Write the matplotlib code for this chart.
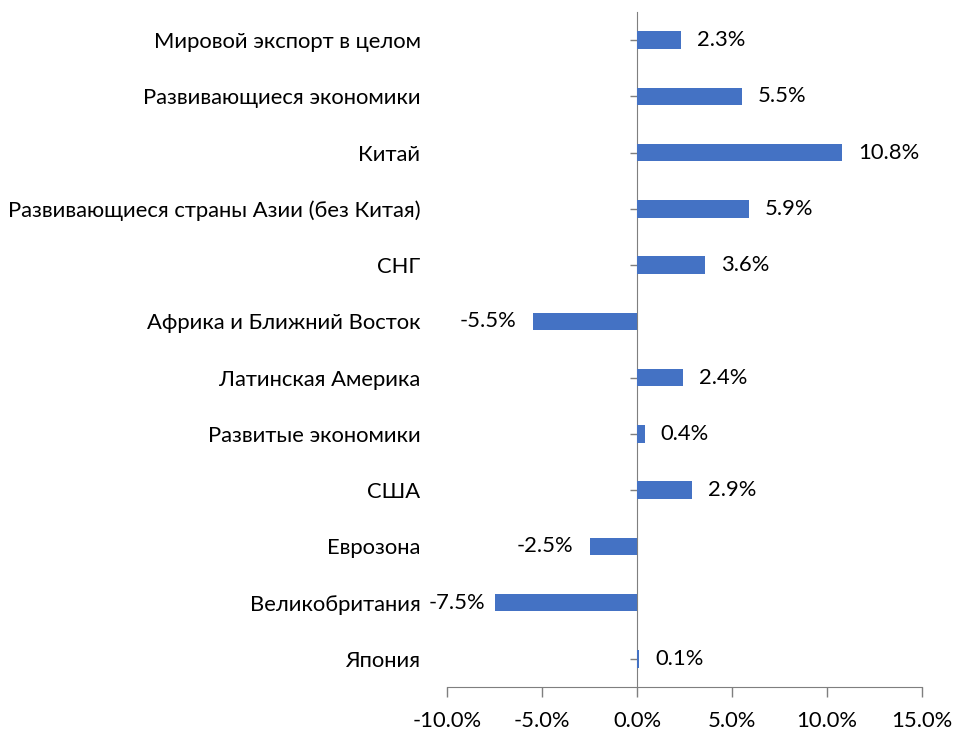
import matplotlib
matplotlib.use('Agg')
import matplotlib.pyplot as plt
import matplotlib.ticker as mticker

categories = ['Мировой экспорт в целом', 'Развивающиеся экономики', 'Китай',
              'Развивающиеся страны Азии (без Китая)', 'СНГ',
              'Африка и Ближний Восток', 'Латинская Америка',
              'Развитые экономики', 'США', 'Еврозона', 'Великобритания', 'Япония']
values = [2.3, 5.5, 10.8, 5.9, 3.6, -5.5, 2.4, 0.4, 2.9, -2.5, -7.5, 0.1]
xticks = [-10, -5, 0, 5, 10, 15]

plt.rcParams['font.family'] = ['Lato', 'DejaVu Sans']
plt.rcParams['font.size'] = 15.8

fig = plt.figure(figsize=(9.54, 7.29), dpi=100)
ax = fig.add_axes([447/954, 1-687/729, (922-447)/954, (687-12)/729])

ypos = list(range(len(categories)))[::-1]
ax.barh(ypos, values, height=0.31, color='#4472C4', zorder=2)

ax.set_xlim(-10, 15)
ax.set_ylim(-0.5, len(categories) - 0.5)
ax.set_xticks(xticks)
ax.xaxis.set_major_formatter(mticker.FuncFormatter(lambda v, p: f'{v:.1f}%'))
ax.tick_params(axis='x', length=7, width=1, color='#7f7f7f', pad=10)

ax.set_yticks(ypos)
ax.set_yticklabels(categories)
ax.tick_params(axis='y', length=0, pad=19)

for s in ['top', 'right', 'left']:
    ax.spines[s].set_visible(False)
ax.spines['bottom'].set_color('#7f7f7f')

# vertical axis at zero with its own ticks
sec = ax.secondary_yaxis(10 / 25)
sec.set_yticks(ypos)
sec.set_yticklabels([])
sec.tick_params(length=5, width=1, color='#7f7f7f')
sec.spines['left'].set_color('#7f7f7f')

for y, v in zip(ypos, values):
    if v >= 0:
        ax.annotate(f'{v:.1f}%', (v, y), xytext=(16, 0), textcoords='offset pixels',
                    ha='left', va='center')
    else:
        # label next to the left end of the bar, pulled in when close to the axis edge
        off = -9 if v < -7 else -16
        ax.annotate(f'{v:.1f}%', (v, y), xytext=(off, 0), textcoords='offset pixels',
                    ha='right', va='center')

fig.savefig('out.png', dpi=100)
